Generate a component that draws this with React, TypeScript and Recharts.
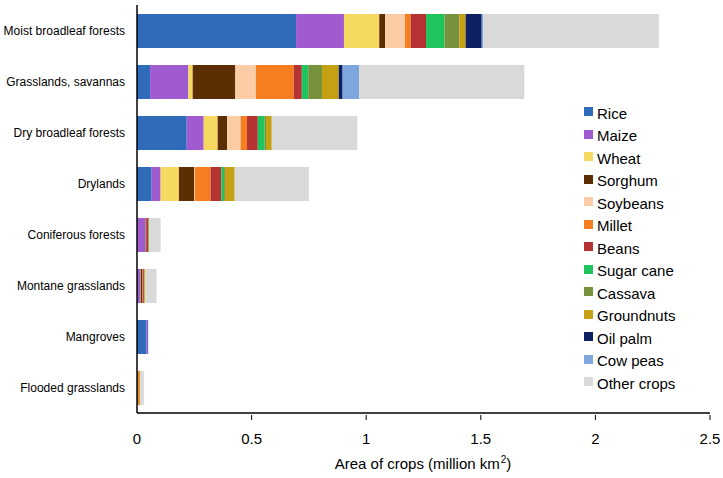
import React from 'react';
import { BarChart, Bar, XAxis, YAxis } from 'recharts';

const regions = [
  'Moist broadleaf forests',
  'Grasslands, savannas',
  'Dry broadleaf forests',
  'Drylands',
  'Coniferous forests',
  'Montane grasslands',
  'Mangroves',
  'Flooded grasslands',
];

const crops = [
  'Rice', 'Maize', 'Wheat', 'Sorghum', 'Soybeans', 'Millet', 'Beans',
  'Sugar cane', 'Cassava', 'Groundnuts', 'Oil palm', 'Cow peas', 'Other crops',
];

const rice = [0.694, 0.057, 0.217, 0.064, 0.002, 0.002, 0.042, 0.002];
const maize = [0.209, 0.167, 0.074, 0.039, 0.034, 0.012, 0.006, 0.001];
const wheat = [0.154, 0.019, 0.061, 0.08, 0.001, 0.002, 0, 0];
const sorghum = [0.026, 0.186, 0.041, 0.066, 0.002, 0.006, 0, 0];
const soybeans = [0.086, 0.09, 0.059, 0.003, 0.001, 0.001, 0, 0];
const millet = [0.025, 0.165, 0.028, 0.069, 0, 0.001, 0, 0.006];
const beans = [0.067, 0.035, 0.047, 0.047, 0.008, 0.006, 0, 0];
const sugarCane = [0.081, 0.028, 0.03, 0.012, 0.001, 0, 0.001, 0];
const cassava = [0.064, 0.06, 0.006, 0.004, 0.003, 0.002, 0, 0];
const groundnuts = [0.028, 0.073, 0.025, 0.042, 0.001, 0.004, 0, 0.005];
const oilPalm = [0.07, 0.017, 0, 0, 0, 0, 0, 0];
const cowPeas = [0.007, 0.072, 0, 0, 0, 0, 0, 0];
const otherCrops = [0.766, 0.721, 0.373, 0.324, 0.05, 0.049, 0, 0.016];

const xTicks = [0, 0.5, 1, 1.5, 2, 2.5];

const colors = [
  '#2E6CB9', '#9F5BCF', '#F5D961', '#5B2E04', '#FBCCA6', '#F47E20', '#B63334',
  '#1FC45E', '#76923C', '#C5A012', '#0C2262', '#7EA7DD', '#D9D9D9',
];

const series = [
  rice, maize, wheat, sorghum, soybeans, millet, beans,
  sugarCane, cassava, groundnuts, oilPalm, cowPeas, otherCrops,
];

const data = regions.map((name, i) => {
  const row: { [key: string]: number | string } = { name };
  crops.forEach((c, j) => {
    row[c] = series[j][i];
  });
  return row;
});

const font = 'Liberation Sans, Arial, sans-serif';

const XTick = (props: any) => {
  const { x, y, payload } = props;
  return (
    <g>
      {payload.value !== 0 && (
        <line x1={x} x2={x} y1={y - 1} y2={y - 6} stroke="#000" strokeWidth={1} />
      )}
      <text x={x} y={y + 23} textAnchor="middle" fontSize={15} fill="#000" fontFamily={font}>
        {payload.value}
      </text>
    </g>
  );
};

const YTick = (props: any) => {
  const { x, y, payload } = props;
  return (
    <text x={x} y={y + 4} textAnchor="end" fontSize={12} fill="#000" fontFamily={font}>
      {payload.value}
    </text>
  );
};

const LegendBox = () => (
  <div style={{ position: 'absolute', left: 584, top: 102, fontFamily: font, fontSize: 15 }}>
    {crops.map((c, i) => (
      <div key={c} style={{ display: 'flex', alignItems: 'center', height: 22.5 }}>
        <span style={{ width: 9, height: 9, background: colors[i], marginRight: 4, marginTop: -3 }} />
        <span>{c}</span>
      </div>
    ))}
  </div>
);

export default function App() {
  return (
    <div style={{ position: 'relative', width: 723, height: 478, background: '#fff' }}>
      <style>{'body{margin:0}'}</style>
      <BarChart
        width={723}
        height={478}
        data={data}
        layout="vertical"
        barSize={34}
        margin={{ top: 5, right: 13, left: 0, bottom: 5 }}
      >
        <XAxis
          type="number"
          domain={[0, 2.5]}
          ticks={xTicks}
          tickLine={false}
          tick={<XTick />}
          axisLine={{ stroke: '#000', strokeWidth: 1.5 }}
          height={60}
        />
        <YAxis
          type="category"
          dataKey="name"
          width={137}
          tickLine={false}
          tick={<YTick />}
          tickMargin={6}
          axisLine={{ stroke: '#000', strokeWidth: 1.5 }}
        />
        {crops.map((c, i) => (
          <Bar key={c} dataKey={c} stackId="a" fill={colors[i]} isAnimationActive={false} />
        ))}
      </BarChart>
      <div
        style={{
          position: 'absolute',
          left: 0,
          width: 846,
          top: 454,
          textAlign: 'center',
          fontFamily: font,
          fontSize: 15,
        }}
      >
        Area of crops (million km<sup style={{ fontSize: 10, marginLeft: 1 }}>2</sup>)
      </div>
      <LegendBox />
    </div>
  );
}
